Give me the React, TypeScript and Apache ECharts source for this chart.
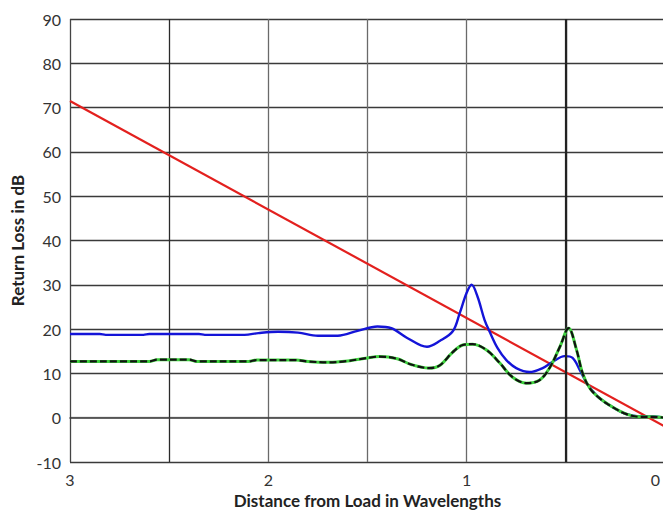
import React, { useEffect, useRef } from "react";
import * as echarts from "echarts";

const xTicks = [0, 0.5, 1, 1.5, 2, 2.5, 3];
const yTicks = [-10, 0, 10, 20, 30, 40, 50, 60, 70, 80, 90];

const redLine: [number, number][] = [
  [3, 71.5],
  [0, -2],
];

const blueLine: [number, number][] = [
  [3.0, 18.9], [2.85, 18.9], [2.82, 18.7], [2.63, 18.7], [2.6, 18.9],
  [2.35, 18.9], [2.32, 18.7], [2.12, 18.7], [2.05, 19.1], [1.95, 19.4],
  [1.85, 19.2], [1.75, 18.5], [1.65, 18.5], [1.55, 19.6], [1.45, 20.6],
  [1.38, 20.2], [1.3, 18.0], [1.2, 16.0], [1.136, 17.3], [1.07, 19.5],
  [1.035, 23.6], [1.0, 28.2], [0.975, 30.0], [0.945, 27.3], [0.91, 22.1],
  [0.884, 19.4], [0.844, 15.7], [0.8, 13.0], [0.75, 11.2], [0.683, 10.3],
  [0.617, 11.2], [0.567, 12.6], [0.506, 13.9], [0.466, 13.5], [0.43, 10.8],
  [0.395, 7.8], [0.36, 5.8], [0.33, 4.4], [0.265, 2.4], [0.194, 0.8],
  [0.13, 0.3], [0.06, 0.3], [0, 0.0],
];

const dashedLine: [number, number][] = [
  [3.0, 12.7], [2.6, 12.7], [2.56, 13.1], [2.4, 13.1], [2.36, 12.7],
  [2.1, 12.7], [2.06, 13.0], [1.86, 13.0], [1.8, 12.7], [1.7, 12.5],
  [1.6, 12.8], [1.5, 13.5], [1.44, 13.8], [1.35, 13.3], [1.28, 12.0],
  [1.19, 11.2], [1.136, 11.8], [1.07, 14.8], [1.02, 16.4], [0.97, 16.6],
  [0.9, 15.3], [0.834, 12.4], [0.77, 9.2], [0.698, 7.8], [0.632, 8.5],
  [0.58, 11.4], [0.53, 16.0], [0.486, 20.2], [0.446, 15.3], [0.416, 10.1],
  [0.38, 6.7], [0.33, 4.4], [0.265, 2.4], [0.194, 0.8], [0.13, 0.2],
  [0.06, 0.2], [0, 0.0],
];

const FONT = "Lato";

export default function App() {
  const ref = useRef<HTMLDivElement>(null);
  useEffect(() => {
    if (!ref.current) return;
    const chart = echarts.init(ref.current, undefined, { renderer: "svg" });
    chart.setOption({
      animation: false,
      backgroundColor: "#ffffff",
      grid: {
        left: 70,
        width: 595,
        top: 19,
        height: 443,
        containLabel: false,
        outerBoundsMode: "none",
      },
      xAxis: {
        type: "value",
        min: xTicks[0],
        max: xTicks[xTicks.length - 1],
        interval: 0.5,
        inverse: true,
        name: "Distance from Load in Wavelengths",
        nameLocation: "middle",
        nameGap: 30,
        nameTextStyle: { fontFamily: FONT, fontWeight: "bold", fontSize: 17, color: "#222" },
        axisLine: { show: true, lineStyle: { color: "#3a3a3a", width: 1.5 } },
        axisTick: { show: false },
        axisLabel: {
          fontFamily: FONT,
          fontSize: 16,
          color: "#333",
          margin: 9,
          alignMinLabel: "right",
          formatter: (v: number) =>
            v === 0 ? "{z|0}" : Number.isInteger(v) ? String(v) : "",
          rich: {
            z: { fontFamily: FONT, fontSize: 16, color: "#333", padding: [0, 5, 0, 0] },
          },
        },
        splitLine: {
          show: true,
          lineStyle: {
            color: ["#222", "#222", "#6a6a6a", "#6a6a6a", "#6a6a6a", "#2a2a2a", "#444"],
            width: 1.3,
          },
        },
      },
      yAxis: {
        type: "value",
        min: yTicks[0],
        max: yTicks[yTicks.length - 1],
        interval: 10,
        name: "Return Loss in dB",
        nameLocation: "middle",
        nameGap: 44,
        nameRotate: 90,
        nameTextStyle: { fontFamily: FONT, fontWeight: "bold", fontSize: 17, color: "#222" },
        axisLine: { show: true, lineStyle: { color: "#3a3a3a", width: 1.5 } },
        axisTick: { show: false },
        axisLabel: { fontFamily: FONT, fontSize: 16, color: "#333", margin: 9 },
        splitLine: {
          show: true,
          lineStyle: {
            color: ["#3a3a3a", "#aaaaaa", "#3a3a3a", "#3a3a3a", "#3a3a3a", "#3a3a3a", "#3a3a3a", "#3a3a3a", "#3a3a3a", "#3a3a3a", "#3a3a3a"],
            width: 1.3,
          },
        },
      },
      series: [
        {
          type: "line",
          data: xTicks.filter((v) => v === 0.5).map((v) => [v, yTicks[0]]),
          symbol: "none",
          lineStyle: { width: 0 },
          markLine: {
            silent: true,
            symbol: "none",
            label: { show: false },
            lineStyle: { color: "#222", width: 2.2, type: "solid" },
            data: [{ xAxis: 0.5 }],
          },
          z: 1,
        },
        {
          type: "line",
          data: redLine,
          symbol: "none",
          lineStyle: { color: "#e3201e", width: 2.2 },
          z: 3,
        },
        {
          type: "line",
          data: blueLine,
          symbol: "none",
          smooth: 0.35,
          lineStyle: { color: "#1414d8", width: 2.4 },
          z: 4,
        },
        {
          type: "line",
          data: dashedLine,
          symbol: "none",
          smooth: 0.35,
          lineStyle: { color: "#3fd23f", width: 3 },
          z: 5,
        },
        {
          type: "line",
          data: dashedLine,
          symbol: "none",
          smooth: 0.35,
          lineStyle: { color: "#111", width: 2.2, type: [7, 3] },
          z: 6,
        },
      ],
    });
    return () => chart.dispose();
  }, []);
  return (
    <div
      ref={ref}
      style={{ position: "fixed", left: 0, top: 0, width: 663, height: 512 }}
    />
  );
}
